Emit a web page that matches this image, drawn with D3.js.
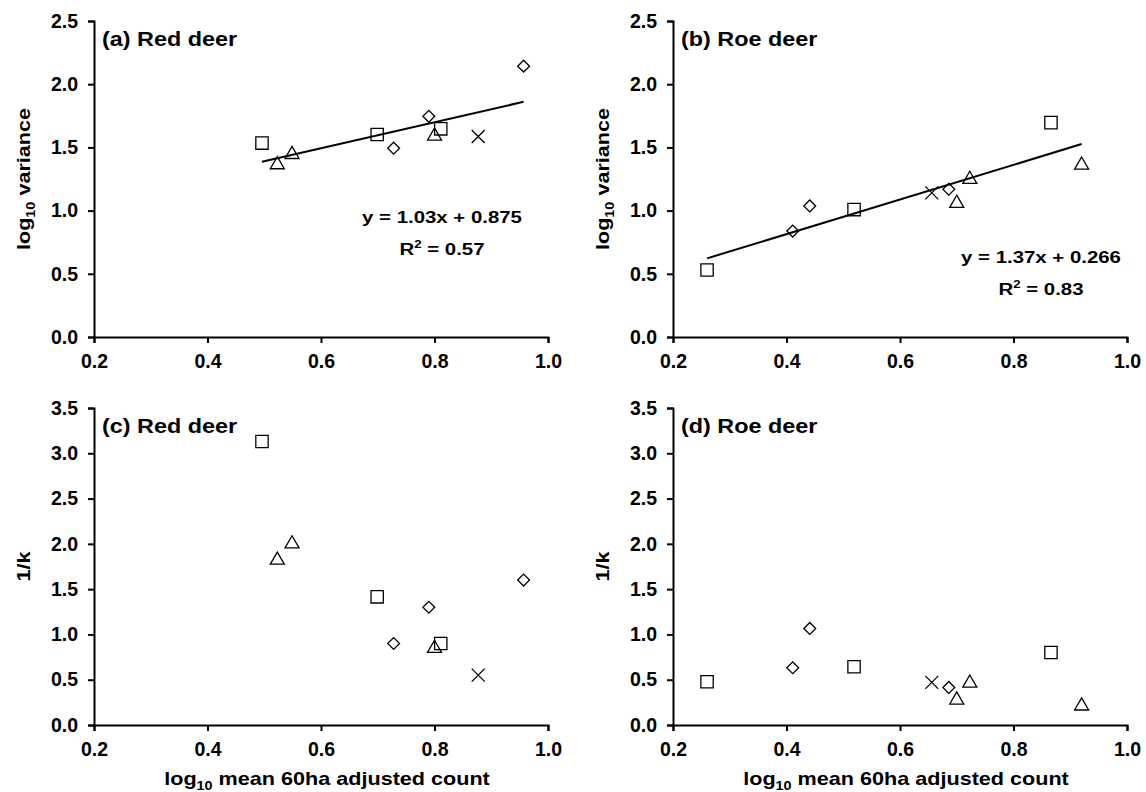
<!DOCTYPE html>
<html>
<head>
<meta charset="utf-8">
<script src="https://cdn.jsdelivr.net/npm/d3@7"></script>
<style>
  body { margin: 0; background: #fff; }
  text { font-family: "Liberation Sans", Arial, Helvetica, sans-serif; font-weight: bold; fill: #000; }
</style>
</head>
<body>
<div class="chart"></div>
<script>
// red deer points (log10 mean 60ha adjusted count)
const redX      = [0.496, 0.523, 0.549, 0.699, 0.728, 0.790, 0.800, 0.811, 0.877, 0.957];
const redShape  = ["square", "triangle", "triangle", "square", "diamond", "diamond", "triangle", "square", "cross", "diamond"];
const redLogVar = [1.534, 1.363, 1.444, 1.602, 1.494, 1.746, 1.590, 1.647, 1.586, 2.143];
const redInvK   = [3.13, 1.82, 2.00, 1.415, 0.90, 1.30, 0.846, 0.90, 0.551, 1.60];

// roe deer points
const roeX      = [0.260, 0.411, 0.441, 0.519, 0.656, 0.686, 0.700, 0.723, 0.866, 0.920];
const roeShape  = ["square", "diamond", "diamond", "square", "cross", "diamond", "triangle", "triangle", "square", "triangle"];
const roeLogVar = [0.530, 0.838, 1.037, 1.008, 1.140, 1.169, 1.058, 1.247, 1.696, 1.360];
const roeInvK   = [0.478, 0.632, 1.066, 0.643, 0.471, 0.415, 0.276, 0.463, 0.80, 0.21];

// regression fits: [slope, intercept], and their label text
const redFit = [1.03, 0.875];
const roeFit = [1.37, 0.266];
const redFitLabel = ["y = 1.03x + 0.875", "0.57"];
const roeFitLabel = ["y = 1.37x + 0.266", "0.83"];

const xTicks   = [0.2, 0.4, 0.6, 0.8, 1.0];
const varTicks = [0.0, 0.5, 1.0, 1.5, 2.0, 2.5];
const kTicks   = [0.0, 0.5, 1.0, 1.5, 2.0, 2.5, 3.0, 3.5];

const W = 1146, H = 792;
const svg = d3.select('.chart').append('svg')
  .attr('width', W).attr('height', H)
  .attr('viewBox', [0, 0, W, H]);

// the reference font is wider than Liberation Sans, so stretch text a little
function wideText(parent, x, y, str, size, sx, anchor, rot) {
  const g = parent.append('g')
    .attr('transform', `translate(${x},${y})` + (rot ? ` rotate(${rot})` : '') + ` scale(${sx},1)`);
  return g.append('text')
    .attr('text-anchor', anchor || 'start')
    .style('font-size', size + 'px')
    .text(str);
}

const symbols = {
  square:   d3.symbol(d3.symbolSquare, 152),
  triangle: d3.symbol(d3.symbolTriangle, 85),
  diamond:  d3.symbol(d3.symbolSquare, 70),
  cross:    d3.symbol(d3.symbolX, 112)
};

function panel(opt) {
  const x = d3.scaleLinear().domain([0.2, 1.0]).range([opt.left, opt.left + 454]);
  const y = d3.scaleLinear().domain([0, opt.yMax]).range([opt.bottom, opt.top]);

  const g = svg.append('g');

  const xAxis = g.append('g')
    .attr('transform', `translate(0,${opt.bottom})`)
    .call(d3.axisBottom(x).tickValues(xTicks).tickFormat(d3.format('.1f')).tickSize(6).tickPadding(11));
  const yAxis = g.append('g')
    .attr('transform', `translate(${opt.left},0)`)
    .call(d3.axisLeft(y).tickValues(opt.yTicks).tickFormat(d3.format('.1f')).tickSize(6).tickPadding(10));

  [xAxis, yAxis].forEach(a => {
    a.selectAll('path, line').attr('stroke', '#000').attr('stroke-width', 2);
    a.selectAll('text').style('font-size', '19.5px').style('font-family', '"Liberation Sans", Arial, sans-serif')
      .style('font-weight', 'bold').attr('fill', '#000');
  });

  wideText(g, opt.left + 8, opt.top + 25, opt.title, 20, 1.17, 'start');

  // y title
  const yt = wideText(g, opt.left - 64, (opt.top + opt.bottom) / 2, '', 18, 1.2, 'middle', -90);
  if (opt.yLog) {
    yt.append('tspan').text('log');
    yt.append('tspan').attr('dy', 5).style('font-size', '12px').text('10');
    yt.append('tspan').attr('dy', -5).text(' variance');
  } else {
    yt.text('1/k');
  }

  // x title only on the bottom row
  if (opt.xTitle) {
    const xt = wideText(g, opt.left + 233, 785, '', 18, 1.2, 'middle');
    xt.append('tspan').text('log');
    xt.append('tspan').attr('dy', 5).style('font-size', '12px').text('10');
    xt.append('tspan').attr('dy', -5).text(' mean 60ha adjusted count');
  }

  if (opt.fit) {
    const ext = d3.extent(opt.xs);
    g.append('line')
      .attr('x1', x(ext[0])).attr('y1', y(opt.fit[0] * ext[0] + opt.fit[1]))
      .attr('x2', x(ext[1])).attr('y2', y(opt.fit[0] * ext[1] + opt.fit[1]))
      .attr('stroke', '#000').attr('stroke-width', 2);

    wideText(g, opt.eqX, opt.eqY, opt.fitLabel[0], 17, 1.2, 'middle');
    const r2 = wideText(g, opt.eqX, opt.eqY + 32, '', 17, 1.2, 'middle');
    r2.append('tspan').text('R');
    r2.append('tspan').attr('dy', -7).style('font-size', '11px').text('2');
    r2.append('tspan').attr('dy', 7).text(' = ' + opt.fitLabel[1]);
  }

  g.selectAll('.pt')
    .data(opt.xs.map((v, i) => ({x: v, y: opt.ys[i], s: opt.shapes[i]})))
    .join('path')
    .attr('class', 'pt')
    .attr('d', d => symbols[d.s]())
    .attr('transform', d => `translate(${x(d.x)},${y(d.y)})` + (d.s === 'diamond' ? ' rotate(45)' : ''))
    .attr('fill', 'none')
    .attr('stroke', '#000')
    .attr('stroke-width', 1.3);
}

panel({left: 94, top: 21, bottom: 337, yMax: 2.5, yTicks: varTicks, yLog: true,
  title: '(a) Red deer', xs: redX, ys: redLogVar, shapes: redShape,
  fit: redFit, fitLabel: redFitLabel, eqX: 442, eqY: 223});
panel({left: 673, top: 21, bottom: 337, yMax: 2.5, yTicks: varTicks, yLog: true,
  title: '(b) Roe deer', xs: roeX, ys: roeLogVar, shapes: roeShape,
  fit: roeFit, fitLabel: roeFitLabel, eqX: 1041, eqY: 263});
panel({left: 94, top: 408, bottom: 725, yMax: 3.5, yTicks: kTicks, xTitle: true,
  title: '(c) Red deer', xs: redX, ys: redInvK, shapes: redShape});
panel({left: 673, top: 408, bottom: 725, yMax: 3.5, yTicks: kTicks, xTitle: true,
  title: '(d) Roe deer', xs: roeX, ys: roeInvK, shapes: roeShape});
</script>
</body>
</html>
